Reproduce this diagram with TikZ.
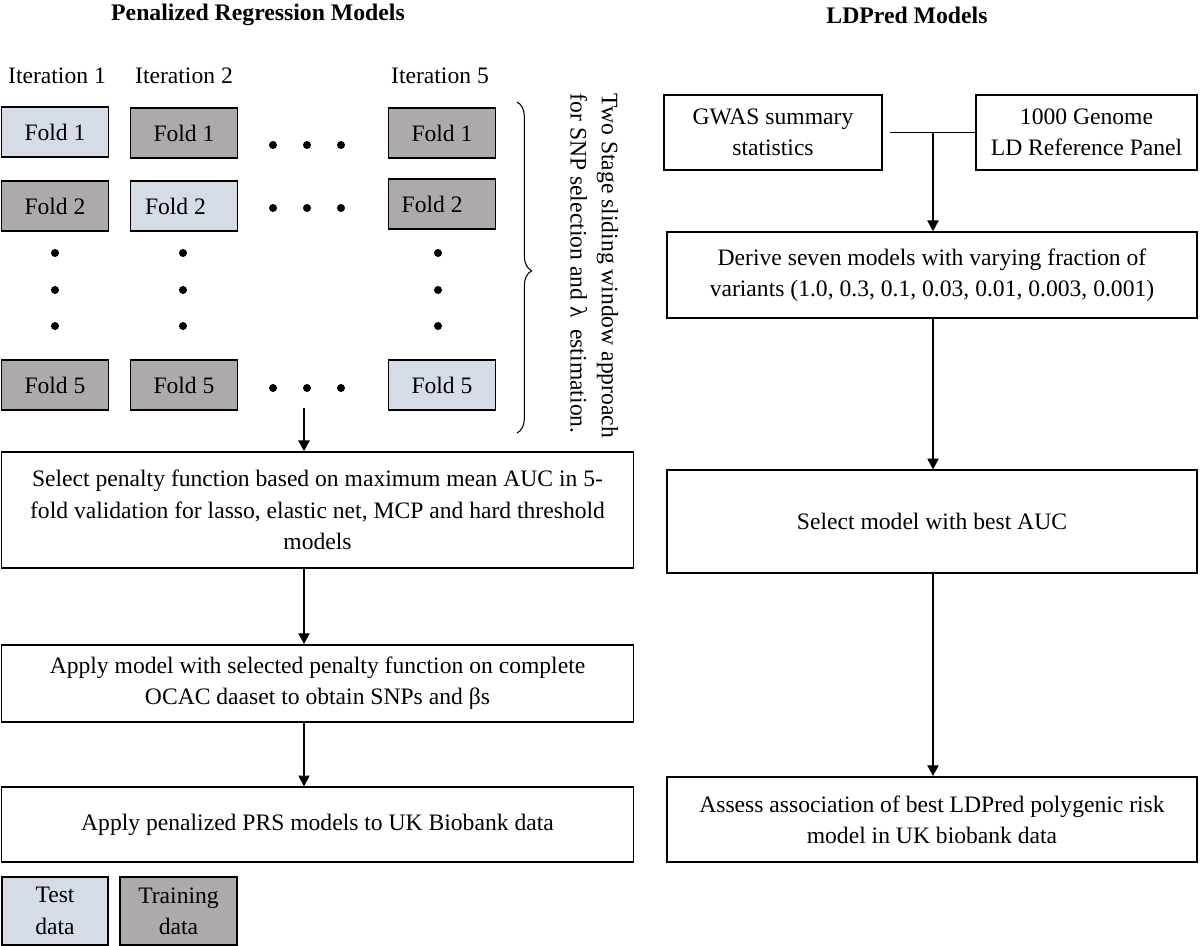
\documentclass[tikz,border=0pt]{standalone}
\usepackage{fontspec}
\setmainfont{Liberation Serif}
\usetikzlibrary{arrows.meta,decorations.pathreplacing}
\definecolor{testc}{HTML}{D6DCE5}
\definecolor{trainc}{HTML}{AEAAAA}
\tikzset{
  box/.style={draw=black, line width=1.3pt, align=center, inner sep=0pt},
  fold/.style={box, minimum width=80.25pt, minimum height=37.5pt},
  testbox/.style={fill=testc},
  trainbox/.style={fill=trainc},
  conn/.style={line width=0.8pt},
  arr/.style={conn, -{Triangle[length=8pt,width=8.5pt]}},
  dotc/.style={circle, fill=black, inner sep=0pt, minimum size=6pt},
  ttl/.style={font=\fontsize{17.8}{21}\selectfont\bfseries},
  txt/.style={font=\fontsize{17.7}{23.5}\selectfont}
}
\begin{document}
\begin{tikzpicture}[x=0.75pt,y=-0.75pt, every node/.style={txt}]
\useasboundingbox (0,0) rectangle (1200,946);
% titles
\node[ttl] (t1) at (258,15) {Penalized Regression Models};
\node[ttl] (t2) at (907,15) {LDPred Models};
% iteration labels
\node (it1) at (57,76) {Iteration 1};
\node (it2) at (184,76) {Iteration 2};
\node (it5) at (440,76) {Iteration 5};
% column 1
\node[fold,testbox] (a1) at (55,132) {Fold 1};
\node[fold,trainbox] (a2) at (55,206) {Fold 2};
\node[fold,trainbox] (a5) at (55,385) {Fold 5};
% column 2
\node[fold,trainbox] (b1) at (184,133) {Fold 1};
\node[fold,testbox] (b2) at (184,206) {};
\node[anchor=west] (b2t) at ([xshift=8pt]b2.west) {Fold 2};
\node[fold,trainbox] (b5) at (184,385) {Fold 5};
% column 3
\node[fold,trainbox] (c1) at (442,133) {Fold 1};
\node[fold,trainbox] (c2) at (442,204) {};
\node[anchor=west] (c2t) at ([xshift=7pt]c2.west) {Fold 2};
\node[fold,testbox] (c5) at (442,385) {Fold 5};
% vertical dots
\foreach \xx/\nm in {55/a,183/b,438/c}{
  \foreach \yy/\k in {253/1,290/2,326/3}{
    \node[dotc] (v\nm\k) at (\xx,\yy) {};
  }
}
% horizontal dots
\foreach \yy/\nm in {145/1,208/2,388/5}{
  \foreach \xx/\k in {273/1,307/2,341/3}{
    \node[dotc] (h\nm\k) at (\xx,\yy) {};
  }
}
% brace
\coordinate (brt) at (517,102);
\coordinate (brb) at (517,433);
\draw[line width=0.8pt, decorate, decoration={brace, amplitude=11pt, aspect=0.51}] (brt) -- (brb);
\node[rotate=-90, align=left, anchor=north west] (note) at (623,89) {Two Stage sliding window approach\\for SNP selection and λ~ estimation.};
% left flow
\node[box, minimum width=474pt, minimum height=87pt] (p1) at (317.5,510) {Select penalty function based on maximum mean AUC in 5-\\fold validation for lasso, elastic net, MCP and hard threshold\\models};
\node[box, minimum width=474pt, minimum height=58pt] (p2) at (317.5,683.5) {Apply model with selected penalty function on complete\\OCAC daaset to obtain SNPs and βs};
\node[box, minimum width=474pt, minimum height=56pt] (p3) at (317.5,824.5) {Apply penalized PRS models to UK Biobank data};
\coordinate (s1) at (304,408);
\draw[arr] (s1) -- (s1 |- p1.north);
\draw[arr] (p1.south -| s1) -- (s1 |- p2.north);
\draw[arr] (p2.south -| s1) -- (s1 |- p3.north);
% legend
\node[box, testbox, minimum width=80pt, minimum height=51pt] (lt) at (55,911) {Test\\data};
\node[box, trainbox, minimum width=88pt, minimum height=51pt] (ltr) at (178.5,911) {Training\\data};
% right flow
\node[box, minimum width=163.5pt, minimum height=56pt] (g) at (773,132.5) {GWAS summary\\statistics};
\node[box, minimum width=165.5pt, minimum height=56pt] (k) at (1086.5,132.5) {1000 Genome\\LD Reference Panel};
\node[box, minimum width=397.5pt, minimum height=64.5pt] (d) at (932,275) {Derive seven models with varying fraction of\\variants (1.0, 0.3, 0.1, 0.03, 0.01, 0.003, 0.001)};
\node[box, minimum width=397.5pt, minimum height=77pt] (sm) at (932,521.5) {Select model with best AUC};
\node[box, minimum width=397.5pt, minimum height=64pt] (as) at (932,819.5) {Assess association of best LDPred polygenic risk\\model in UK biobank data};
\coordinate (j) at (933,132.5);
\draw[conn, shorten <=5pt] (g.east) -- (k.west);
\draw[arr] (j) -- (j |- d.north);
\draw[arr] (d.south -| j) -- (j |- sm.north);
\draw[arr] (sm.south -| j) -- (j |- as.north);
\end{tikzpicture}
\end{document}
